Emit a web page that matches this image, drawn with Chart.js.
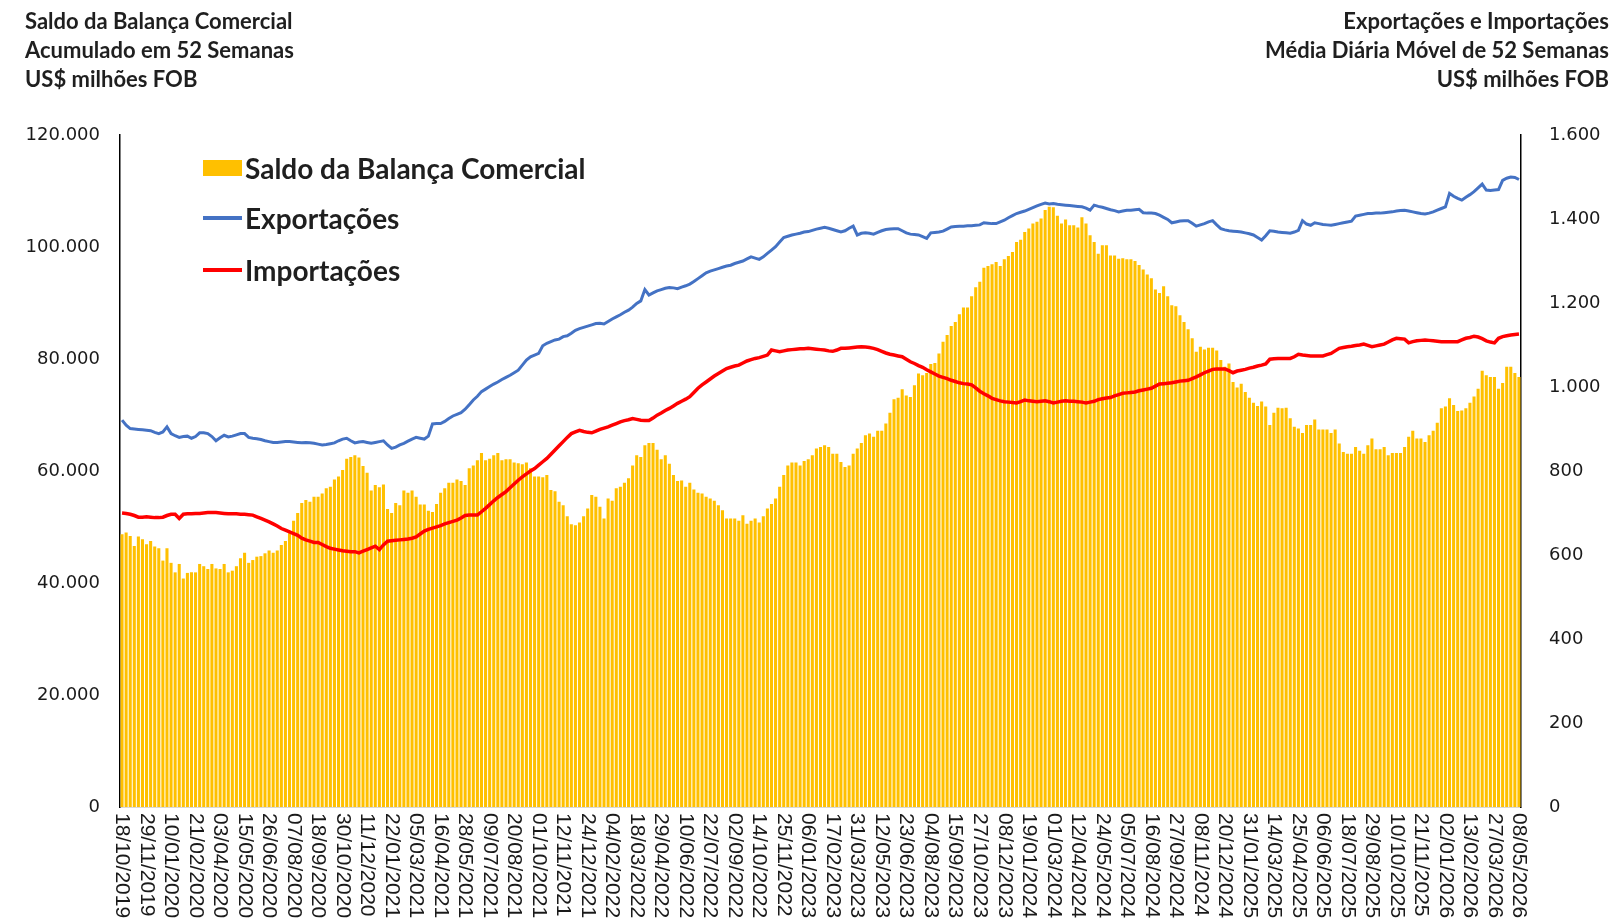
<!DOCTYPE html>
<html lang="pt-BR">
<head>
<meta charset="utf-8">
<title>Saldo da Balança Comercial</title>
<script src="https://cdn.jsdelivr.net/npm/chart.js@4.4.1/dist/chart.umd.min.js"></script>
<style>
  html, body { margin: 0; padding: 0; background: #fff; }
  #wrap { position: relative; width: 1614px; height: 919px; overflow: hidden; }
  #grafico { position: absolute; left: 0; top: 0; }
  .titulo { position: absolute; top: 7px; font-family: Lato, "Open Sans", sans-serif; font-size: 22px; line-height: 28.8px; color: #1f1f1f; font-weight: bold; }
  #tituloEsq { left: 25px; }
  #tituloDir { right: 5px; text-align: right; }
  .leg { position: absolute; left: 203px; height: 30px; display: flex; align-items: center; font-family: Lato, "Open Sans", sans-serif; font-size: 28px; font-weight: bold; color: #1f1f1f; white-space: nowrap; }
  .leg span.sw { display: inline-block; width: 39px; margin-right: 3px; }
</style>
</head>
<body>
<div id="wrap">
  <canvas id="grafico" width="1614" height="919"></canvas>
  <div class="titulo" id="tituloEsq">Saldo da Balança Comercial<br>Acumulado em 52 Semanas<br>US$ milhões FOB</div>
  <div class="titulo" id="tituloDir">Exportações e Importações<br>Média Diária Móvel de 52 Semanas<br>US$ milhões FOB</div>
  <div class="leg" style="top:153px"><span class="sw" style="height:16px;background:#FFC000"></span>Saldo da Balança Comercial</div>
  <div class="leg" style="top:203px"><span class="sw" style="height:4px;background:#4472C4"></span>Exportações</div>
  <div class="leg" style="top:255px"><span class="sw" style="height:4px;background:#FF0000"></span>Importações</div>
</div>
<script>
//---------------------------------------------------------------------
// DADOS (semanal, 18/10/2019 a 08/05/2026)
//---------------------------------------------------------------------
const inicio = Date.UTC(2019, 9, 18);
const nSemanas = 343;

// Saldo acumulado em 52 semanas (US$ milhões)
const saldo = [
  48700, 49000, 48400, 46600, 48300, 47800, 46900, 47500, 46500, 46200,
  44000, 46200, 43600, 41900, 43400, 40800, 41800, 41900, 41900, 43400,
  43000, 42500, 43400, 42600, 42500, 43400, 41900, 42200, 43000, 44400,
  45400, 43600, 44100, 44700, 44800, 45300, 45800, 45400, 45800, 46800,
  47500, 48900, 51100, 52500, 54300, 54800, 54500, 55400, 55400, 56000,
  56900, 57200, 58500, 59000, 60200, 62200, 62500, 62800, 62400, 60900,
  59700, 56500, 57500, 57100, 57600, 53200, 52500, 54300, 53900, 56500,
  56100, 56500, 55400, 54000, 54000, 52900, 52700, 54100, 56100, 56900,
  57900, 57900, 58500, 58200, 57500, 60500, 61000, 61900, 63200, 61900,
  62200, 62800, 63200, 61900, 62100, 62100, 61500, 61400, 61200, 61500,
  60500, 59000, 59000, 58900, 59300, 56600, 56400, 54500, 53900, 51900,
  50500, 50300, 50800, 51900, 53300, 55700, 55400, 53600, 51500, 55100,
  54700, 56900, 57200, 57900, 58700, 61000, 62800, 62500, 64600, 65000,
  65000, 63800, 62100, 62800, 61300, 59300, 58200, 58300, 57200, 57900,
  56700, 56100, 56000, 55400, 55100, 54700, 53900, 53000, 51500, 51500,
  51500, 51100, 52100, 50600, 51100, 51500, 50800, 51900, 53300, 54100,
  55100, 57200, 59300, 61000, 61500, 61500, 61000, 61800, 62100, 62800,
  64000, 64300, 64600, 64300, 63100, 63100, 61600, 60700, 61000, 63100,
  64000, 65000, 66400, 66700, 66100, 67200, 67200, 68500, 70400, 72800,
  73100, 74600, 73500, 73200, 75300, 77400, 77100, 77500, 79100, 79300,
  81000, 83100, 84300, 85900, 86600, 88000, 89200, 89200, 91200, 92800,
  93800, 96300, 96600, 96900, 97300, 96600, 97800, 98400, 99100, 100900,
  101300, 102700, 103300, 104200, 104500, 105100, 106600, 107200, 107100, 105600,
  104200, 104900, 103900, 103900, 103500, 105300, 104200, 102100, 100900, 98800,
  100300, 100300, 98500, 98500, 97900, 98000, 97800, 97800, 97500, 96800,
  96000, 95100, 94400, 92400, 91800, 93000, 91200, 89600, 89400, 87800,
  86600, 85300, 83700, 81300, 82200, 81700, 82000, 82000, 81500, 79800,
  78600, 79200, 75900, 74900, 75600, 74100, 73100, 72200, 71600, 72400,
  71500, 68200, 70400, 71300, 71200, 71300, 69400, 67900, 67600, 66800,
  68200, 68200, 69200, 67400, 67400, 67400, 66800, 67400, 64900, 63400,
  63100, 63100, 64300, 63600, 63100, 64600, 65800, 63900, 63900, 64300,
  62800, 63200, 63200, 63200, 64300, 66100, 67200, 65800, 65800, 65200,
  66400, 67200, 68600, 71200, 71500, 73000, 71800, 70700, 70800, 71200,
  72200, 73300, 74700, 77900, 77100, 76800, 76800, 74700, 75700, 78600,
  78600, 77500, 76800
];

// Exportações - média diária móvel (US$ milhões)
const exportacoes = [
  921, 909, 901, 900, 899, 898, 897, 896, 892, 889,
  893, 905, 889, 884, 880, 882, 883, 878, 882, 891,
  891, 889, 882, 872, 879, 885, 881, 883, 886, 889,
  889, 880, 878, 877, 875, 872, 870, 868, 868, 869,
  870, 870, 869, 868, 867, 868, 867, 866, 864, 862,
  863, 865, 867, 872, 876, 878, 872, 867, 869, 870,
  868, 866, 868, 870, 872, 862, 854, 857, 862, 866,
  871, 876, 880, 878, 876, 883, 912, 913, 913, 918,
  925, 931, 935, 939, 947, 958, 969, 978, 989, 995,
  1001, 1007, 1012, 1018, 1023, 1028, 1034, 1040, 1052, 1064,
  1072, 1076, 1080, 1098, 1104, 1108, 1112, 1114, 1120, 1122,
  1128, 1135, 1139, 1142, 1145, 1148, 1151, 1152, 1150, 1156,
  1162, 1167, 1172, 1178, 1183, 1190, 1199, 1205, 1232, 1219,
  1224, 1229, 1232, 1235, 1237, 1236, 1234, 1238, 1241, 1245,
  1251, 1258, 1265, 1272, 1276, 1279, 1282, 1285, 1288, 1290,
  1294, 1297, 1300, 1305, 1310, 1307, 1304, 1310, 1318, 1326,
  1334, 1345, 1356, 1359, 1362, 1364, 1366, 1369, 1370, 1373,
  1376, 1378, 1380, 1378, 1375, 1372, 1369, 1372, 1378, 1383,
  1362, 1366, 1367, 1366, 1364, 1368, 1372, 1375, 1376, 1377,
  1377, 1372, 1367, 1364, 1363, 1362, 1358, 1354, 1367, 1368,
  1369, 1371, 1376, 1381, 1382, 1383, 1383, 1384, 1384, 1385,
  1386, 1391, 1390, 1389, 1389, 1393, 1397, 1403, 1408, 1413,
  1416, 1419, 1423, 1427, 1431, 1435, 1438, 1436, 1437, 1435,
  1434, 1433, 1432, 1431, 1430, 1429, 1426, 1421, 1433, 1430,
  1428, 1425, 1422, 1420, 1417, 1419, 1421, 1421, 1422, 1423,
  1415, 1414, 1414, 1413, 1409, 1404, 1399, 1391, 1393, 1395,
  1396, 1396, 1390, 1383, 1386, 1389, 1393, 1396, 1386, 1377,
  1374, 1372, 1371, 1370, 1369, 1367, 1365, 1362, 1356, 1350,
  1360, 1372, 1371, 1369, 1368, 1367, 1366, 1369, 1373, 1396,
  1388, 1385, 1391, 1389, 1387, 1386, 1385, 1387, 1389, 1391,
  1393, 1395, 1407, 1409, 1411, 1413, 1413, 1414, 1414, 1415,
  1416, 1417, 1419, 1420, 1421, 1419, 1417, 1415, 1413, 1412,
  1414, 1417, 1421, 1425, 1429, 1461, 1454, 1449, 1445, 1452,
  1458, 1465, 1474, 1483, 1469, 1468, 1469, 1470, 1492, 1497,
  1500, 1499, 1494
];

// Importações - média diária móvel (US$ milhões)
const importacoes = [
  700, 699, 697, 694, 690, 690, 691, 690, 689, 689,
  690, 694, 697, 697, 687, 697, 698, 698, 699, 699,
  700, 701, 701, 701, 700, 699, 698, 698, 698, 697,
  697, 696, 695, 691, 687, 683, 679, 674, 669, 663,
  659, 655, 651, 647, 640, 636, 633, 630, 630, 625,
  620, 616, 614, 612, 610, 609, 608, 608, 605, 609,
  613, 617, 621, 613, 624, 633, 634, 635, 636, 637,
  638, 640, 643, 650, 657, 661, 664, 667, 670, 674,
  677, 680, 683, 688, 694, 695, 695, 695, 703, 711,
  720, 729, 737, 744, 751, 760, 769, 778, 786, 793,
  800, 806, 814, 822, 830, 840, 850, 860, 870, 880,
  889, 893, 897, 894, 892, 891, 895, 899, 902, 905,
  909, 913, 917, 920, 922, 925, 923, 921, 920, 920,
  926, 933, 938, 944, 949, 955, 961, 966, 971, 977,
  987, 997, 1005, 1012, 1019, 1026, 1032, 1038, 1044, 1047,
  1050, 1052, 1057, 1062, 1065, 1068, 1070, 1073, 1076, 1088,
  1086, 1084, 1086, 1088, 1089, 1090, 1091, 1091, 1092, 1091,
  1090, 1089, 1088, 1086, 1085, 1088, 1092, 1092, 1093, 1094,
  1095, 1096, 1095, 1094, 1092, 1089, 1085, 1081, 1078, 1076,
  1074, 1072, 1066, 1060, 1056, 1051, 1047, 1041, 1036, 1031,
  1026, 1023, 1020, 1016, 1013, 1010, 1008, 1007, 1005, 998,
  990, 984, 979, 973, 970, 967, 965, 964, 963, 962,
  965, 969, 967, 966, 965, 966, 967, 965, 962, 964,
  966, 967, 966, 966, 965, 964, 962, 964, 966, 970,
  972, 974, 975, 979, 982, 985, 986, 987, 988, 991,
  993, 995, 997, 1002, 1007, 1008, 1009, 1010, 1012, 1014,
  1015, 1016, 1020, 1024, 1029, 1034, 1038, 1042, 1043, 1043,
  1043, 1039, 1034, 1038, 1040, 1042, 1045, 1047, 1050, 1052,
  1055, 1066, 1067, 1068, 1068, 1068, 1068, 1072, 1078, 1076,
  1075, 1074, 1074, 1074, 1074, 1077, 1080, 1086, 1092, 1094,
  1096, 1097, 1099, 1100, 1102, 1099, 1096, 1098, 1100, 1102,
  1107, 1112, 1116, 1115, 1114, 1105, 1108, 1110, 1111, 1112,
  1111, 1110, 1109, 1108, 1108, 1108, 1108, 1108, 1112, 1116,
  1118, 1121, 1119, 1115, 1110, 1107, 1105, 1116, 1120, 1122,
  1124, 1125, 1126
];

// Rótulos semanais dd/mm/aaaa
const semanas = [];
for (let i = 0; i < nSemanas; i++) {
    const d = new Date(inicio + i * 7 * 86400000);
    const dd = String(d.getUTCDate()).padStart(2, '0');
    const mm = String(d.getUTCMonth() + 1).padStart(2, '0');
    semanas.push(dd + '/' + mm + '/' + d.getUTCFullYear());
}
const passoRotulo = 6;

const milhar = v => String(v).replace(/\B(?=(\d{3})+(?!\d))/g, '.');

//---------------------------------------------------------------------
// RÓTULOS DO EIXO X (verticais, leitura de cima para baixo)
//---------------------------------------------------------------------
const rotulosX = {
    id: 'rotulosX',
    afterDraw(chart) {
        const ctx = chart.ctx;
        const x = chart.scales.x;
        ctx.save();
        ctx.font = '21px "Liberation Sans", Arial, sans-serif';
        ctx.fillStyle = '#1a1a1a';
        ctx.textAlign = 'left';
        ctx.textBaseline = 'middle';
        semanas.forEach((d, i) => {
            if (i % passoRotulo !== 0) return;
            ctx.save();
            ctx.translate(x.getPixelForValue(i), x.top + 6);
            ctx.rotate(Math.PI / 2);
            ctx.fillText(d, 0, 0);
            ctx.restore();
        });
        ctx.restore();
    }
};

const fonteEixo = { family: '"DejaVu Sans", Verdana, sans-serif', size: 18 };

new Chart(document.getElementById('grafico'), {
    data: {
        labels: semanas,
        datasets: [
            {
                type: 'line',
                label: 'Exportações',
                data: exportacoes,
                yAxisID: 'yFluxo',
                borderColor: '#4472C4',
                borderWidth: 3,
                pointRadius: 0,
                tension: 0,
                order: 1
            },
            {
                type: 'line',
                label: 'Importações',
                data: importacoes,
                yAxisID: 'yFluxo',
                borderColor: '#FF0000',
                borderWidth: 3.5,
                pointRadius: 0,
                tension: 0,
                order: 2
            },
            {
                type: 'bar',
                label: 'Saldo da Balança Comercial',
                data: saldo,
                yAxisID: 'ySaldo',
                backgroundColor: '#FFC000',
                barPercentage: 0.75,
                categoryPercentage: 1.0,
                order: 3
            }
        ]
    },
    options: {
        responsive: false,
        animation: false,
        layout: { padding: { top: 135, left: 0, right: 0, bottom: 0 } },
        plugins: {
            legend: { display: false },
            tooltip: { enabled: false }
        },
        scales: {
            x: {
                type: 'category',
                offset: true,
                grid: { display: false, drawTicks: false },
                border: { display: true, color: '#d9d9d9', width: 1 },
                ticks: { display: false },
                afterFit(s) { s.height = 112; }
            },
            ySaldo: {
                position: 'left',
                min: 0,
                max: 120000,
                grid: { display: false, drawTicks: false },
                border: { display: true, color: '#000', width: 1.5 },
                ticks: { stepSize: 20000, padding: 20, color: '#1a1a1a', font: fonteEixo, callback: milhar },
                afterFit(s) { s.width = 120; }
            },
            yFluxo: {
                position: 'right',
                min: 0,
                max: 1600,
                grid: { display: false, drawTicks: false },
                border: { display: true, color: '#000', width: 1.5 },
                ticks: { stepSize: 200, padding: 28, color: '#1a1a1a', font: fonteEixo, callback: milhar },
                afterFit(s) { s.width = 93; }
            }
        }
    },
    plugins: [rotulosX]
});
</script>
</body>
</html>
